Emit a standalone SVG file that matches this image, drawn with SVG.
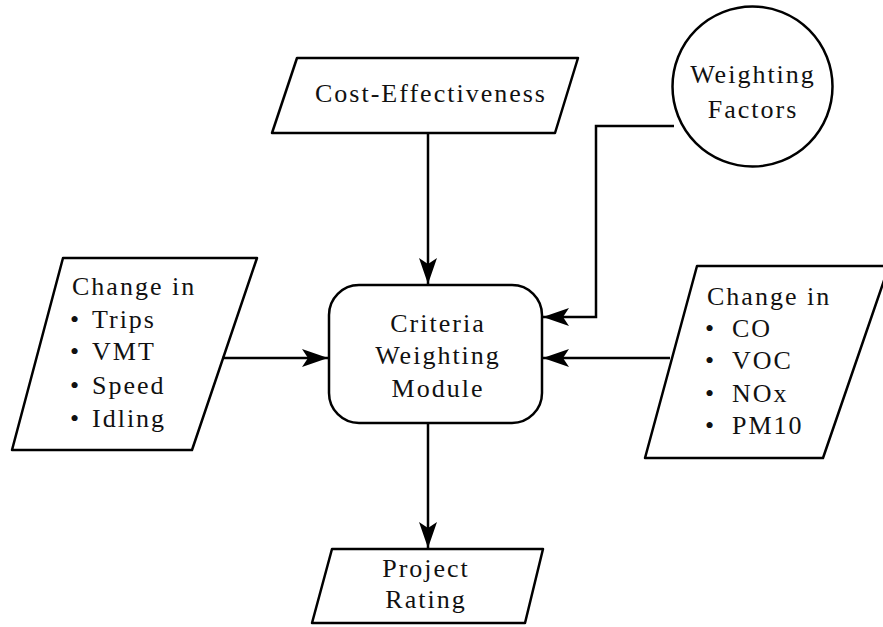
<svg xmlns="http://www.w3.org/2000/svg" width="883" height="627" viewBox="0 0 883 627">
<style>
.shape{fill:#fff;stroke:#000;stroke-width:2.5;stroke-linejoin:round}
.t{font-family:'Liberation Serif','DejaVu Serif','Noto Serif',serif;font-size:26px;letter-spacing:2px;fill:#111}
.c{text-anchor:middle}
.edge{fill:none;stroke:#000;stroke-width:2.5}
</style>
<defs>
<marker id="ah" markerUnits="userSpaceOnUse" markerWidth="30" markerHeight="22" viewBox="-27 -11 29 22" refX="0" refY="0" orient="auto">
<path d="M0,0 L-26,-9 L-20,0 L-26,9 Z" fill="#000"/>
</marker>
</defs>
<rect width="883" height="627" fill="#fff"/>
<g id="cost">
<polygon class="shape" points="297,58 578,58 555,133 272,133"/>
<text class="t c" x="431" y="102">Cost-Effectiveness</text>
</g>
<g id="weighting-factors">
<circle class="shape" cx="752.5" cy="86.5" r="80"/>
<text class="t c" x="753" y="83">Weighting</text>
<text class="t c" x="753" y="118">Factors</text>
</g>
<g id="criteria">
<rect class="shape" x="329" y="285" width="213" height="138" rx="30" ry="30"/>
<text class="t c" x="438" y="332">Criteria</text>
<text class="t c" x="438" y="364">Weighting</text>
<text class="t c" x="438" y="397">Module</text>
</g>
<g id="travel">
<polygon class="shape" points="63,258 257,258 192,450 12,450"/>
<text class="t" x="72" y="295">Change in</text>
<text class="t" x="70" y="328">•</text><text class="t" x="92" y="328">Trips</text>
<text class="t" x="70" y="360">•</text><text class="t" x="92" y="360">VMT</text>
<text class="t" x="70" y="394">•</text><text class="t" x="92" y="394">Speed</text>
<text class="t" x="70" y="427">•</text><text class="t" x="92" y="427">Idling</text>
</g>
<g id="emissions">
<polygon class="shape" points="697,266 889,266 823,458 645,458"/>
<text class="t" x="707" y="305">Change in</text>
<text class="t" x="705" y="337">•</text><text class="t" x="732" y="337">CO</text>
<text class="t" x="705" y="369">•</text><text class="t" x="732" y="369">VOC</text>
<text class="t" x="705" y="402">•</text><text class="t" x="732" y="402">NOx</text>
<text class="t" x="705" y="434">•</text><text class="t" x="732" y="434">PM10</text>
</g>
<g id="project-rating">
<polygon class="shape" points="332,549 543,549 525,623 312,623"/>
<text class="t c" x="426" y="577">Project</text>
<text class="t c" x="426" y="608">Rating</text>
</g>
<g id="connectors">
<path class="edge" d="M428,133 V284" marker-end="url(#ah)"/>
<path class="edge" d="M222,358 H328" marker-end="url(#ah)"/>
<path class="edge" d="M670,358 H543" marker-end="url(#ah)"/>
<path class="edge" d="M674,126 H596 V317 H543" marker-end="url(#ah)"/>
<path class="edge" d="M428,423 V548" marker-end="url(#ah)"/>
</g>
</svg>
